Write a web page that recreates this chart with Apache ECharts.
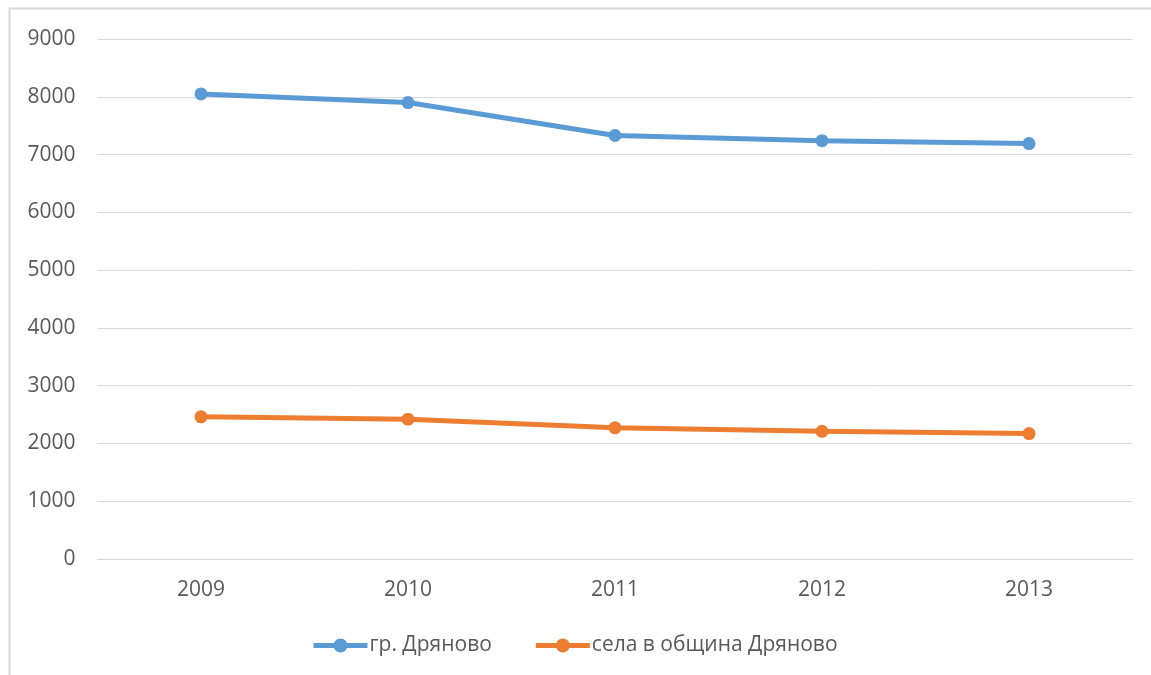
<!DOCTYPE html>
<html><head><meta charset="utf-8">
<script src="https://cdn.jsdelivr.net/npm/echarts@6/dist/echarts.min.js"></script>
<style>html,body{margin:0;padding:0;background:#fff}#c{width:1151px;height:675px}</style>
</head><body><div id="c"></div>
<script>
const categories = ['2009','2010','2011','2012','2013'];
const townValues = [8050, 7900, 7330, 7240, 7190];
const villageValues = [2460, 2420, 2270, 2210, 2170];
const seriesNames = ['гр. Дряново', 'села в община Дряново'];
const yTicks = {min: 0, max: 9000, interval: 1000};

const chart = echarts.init(document.getElementById('c'));
const font = '"Open Sans", "Noto Sans", sans-serif';
const legendIcon = 'path://M0,4.5 H21 V9.5 H0 Z M33,4.5 H54 V9.5 H33 Z M20,7 A7,7 0 1 1 34,7 A7,7 0 1 1 20,7 Z';
chart.setOption({
  animation: false,
  textStyle: {fontFamily: font},
  graphic: [
    {type: 'line', shape: {x1: 9.5, y1: 8, x2: 9.5, y2: 675}, style: {stroke: '#D9D9D9', lineWidth: 2}},
    {type: 'line', shape: {x1: 9, y1: 8.5, x2: 1151, y2: 8.5}, style: {stroke: '#D9D9D9', lineWidth: 2}}
  ],
  grid: {left: 97.5, right: 18.5, top: 39, bottom: 116, containLabel: false},
  legend: {
    top: 630, left: 'center', itemGap: 44, itemWidth: 54, itemHeight: 14,
    icon: legendIcon,
    textStyle: {color: '#595959', fontSize: 21, fontFamily: font, padding: [0, 0, 0, -3]},
    data: seriesNames
  },
  xAxis: {
    type: 'category', data: categories, boundaryGap: true,
    axisLine: {lineStyle: {color: '#D9D9D9', width: 1}},
    axisTick: {show: false},
    axisLabel: {color: '#595959', fontSize: 21, margin: 21, fontFamily: font}
  },
  yAxis: {
    type: 'value', min: yTicks.min, max: yTicks.max, interval: yTicks.interval,
    axisLine: {show: false}, axisTick: {show: false},
    splitLine: {lineStyle: {color: '#D9D9D9', width: 1}},
    axisLabel: {color: '#595959', fontSize: 21, margin: 22, fontFamily: font,
      formatter: v => String(v)}
  },
  series: [
    {name: seriesNames[0], type: 'line', data: townValues, symbol: 'circle', symbolSize: 13,
     lineStyle: {color: '#5B9BD5', width: 5}, itemStyle: {color: '#5B9BD5'}},
    {name: seriesNames[1], type: 'line', data: villageValues, symbol: 'circle', symbolSize: 13,
     lineStyle: {color: '#ED7D31', width: 5}, itemStyle: {color: '#ED7D31'}}
  ]
});
</script></body></html>
